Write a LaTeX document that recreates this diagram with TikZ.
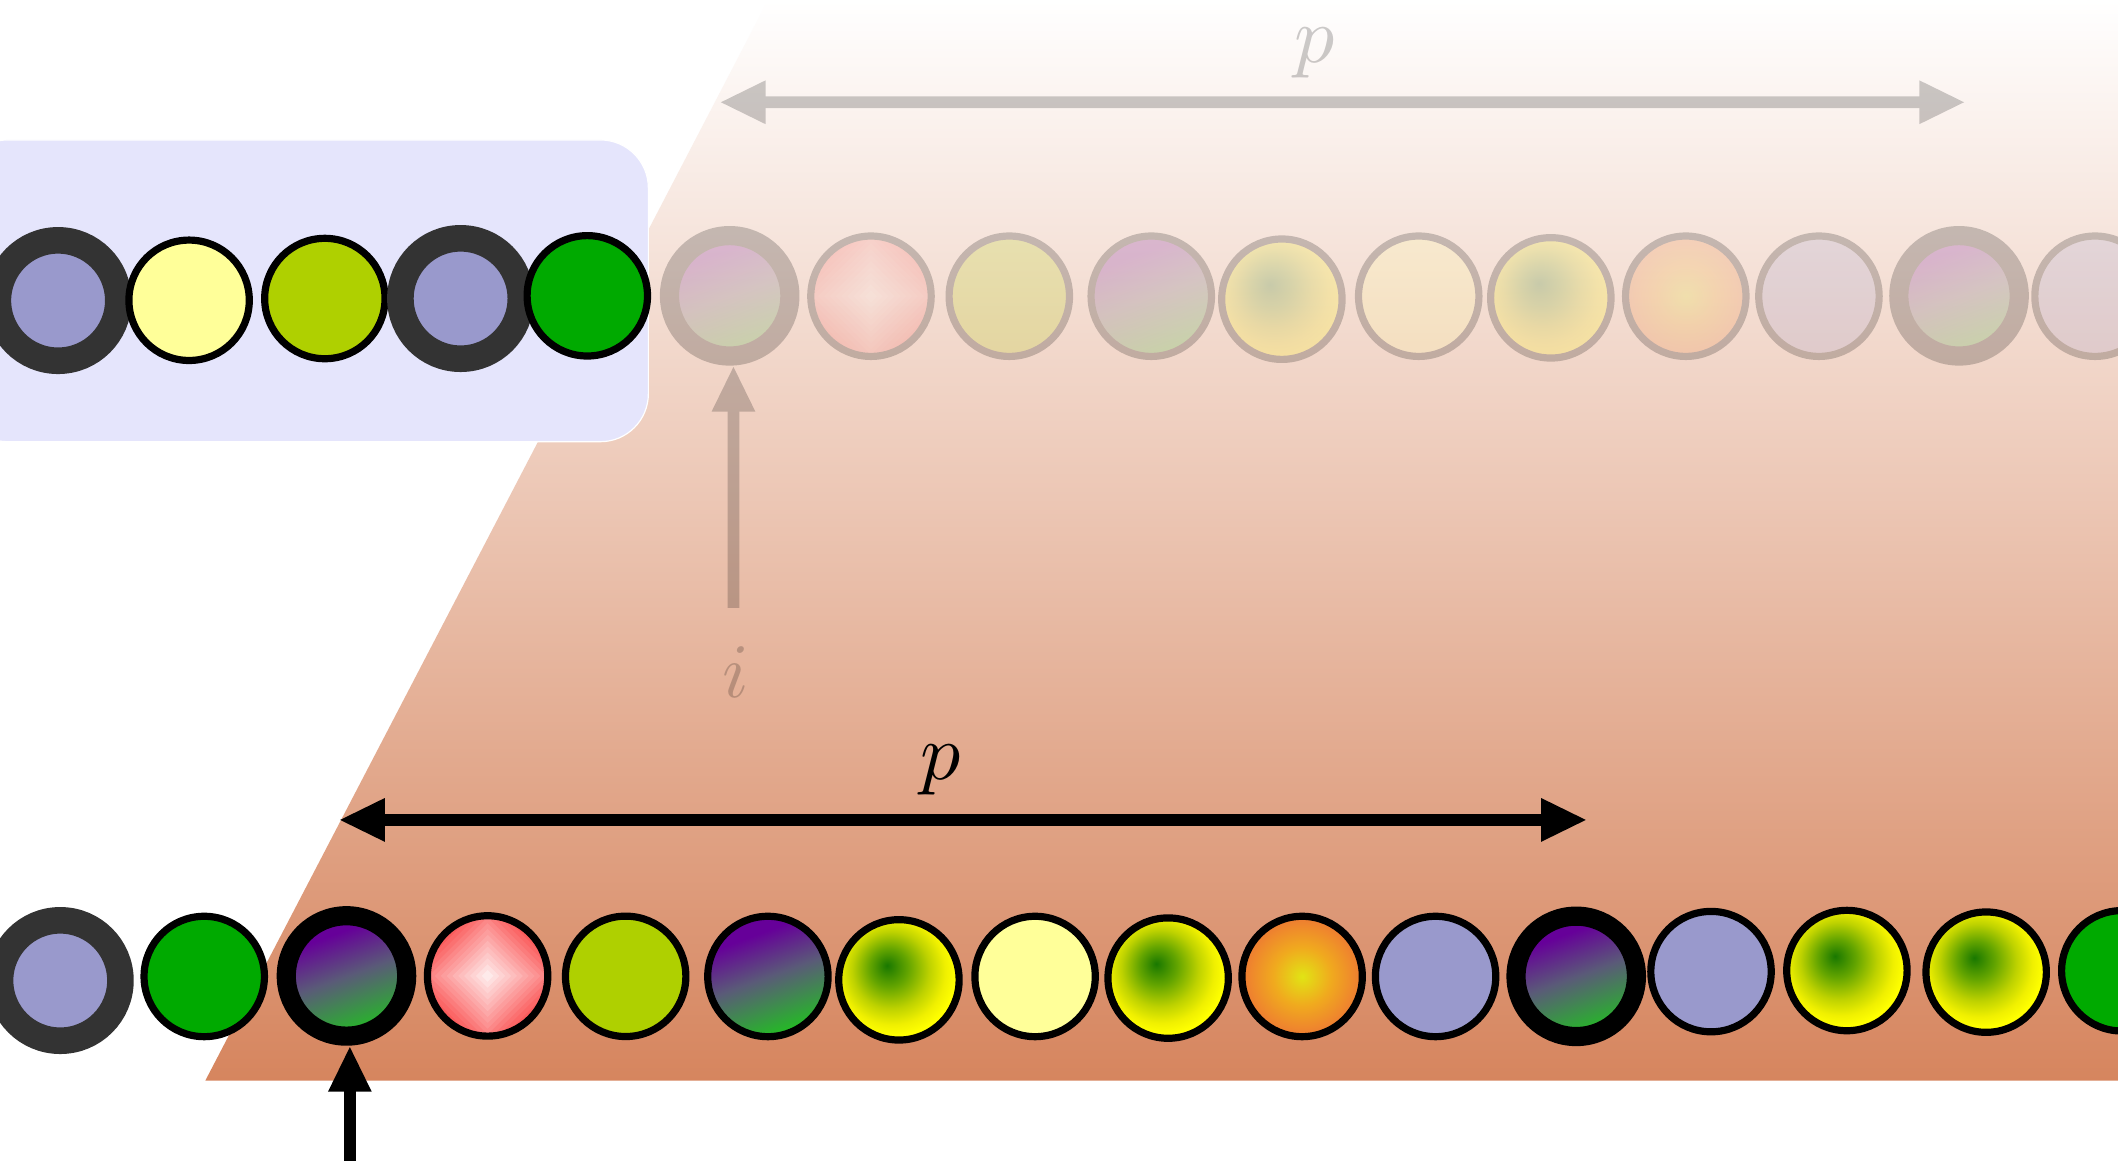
\documentclass[tikz,border=0pt]{standalone}
\usetikzlibrary{arrows.meta}
\definecolor{lav}{RGB}{153,153,204}
\definecolor{yel}{RGB}{255,255,153}
\definecolor{ygr}{RGB}{175,208,0}
\definecolor{grn}{RGB}{0,170,0}
\definecolor{dgray}{RGB}{51,51,51}
\definecolor{boxc}{RGB}{229,229,252}
\definecolor{tbot}{RGB}{214,133,94}
\definecolor{dred}{RGB}{250,80,80}
\definecolor{pgP}{RGB}{102,0,153}
\definecolor{pgM}{RGB}{90,90,120}
\definecolor{pgG}{RGB}{34,190,34}
\definecolor{gyA}{RGB}{25,120,0}
\definecolor{gyB}{RGB}{100,165,0}
\definecolor{gyC}{RGB}{190,210,0}
\definecolor{gyD}{RGB}{240,240,0}
\definecolor{gyE}{RGB}{255,255,0}
\definecolor{orA}{RGB}{225,228,20}
\definecolor{orB}{RGB}{240,170,30}
\definecolor{orC}{RGB}{238,122,50}
\pgfdeclareradialshading{gyshade}{\pgfpoint{-5bp}{6bp}}{color(0bp)=(gyA); color(8bp)=(gyB); color(16bp)=(gyC); color(22bp)=(gyD); color(26bp)=(gyE); color(50bp)=(gyE)}
\pgfdeclareradialshading{orshade}{\pgfpoint{0bp}{0bp}}{color(0bp)=(orA); color(12bp)=(orB); color(25bp)=(orC); color(50bp)=(orC)}
\pgfdeclareverticalshading{pgshade}{100bp}{color(0bp)=(pgG); color(25bp)=(pgG); color(50bp)=(pgM); color(68bp)=(pgP); color(100bp)=(pgP)}
\tikzset{
  cir/.style={circle, inner sep=0pt, minimum size=60.2pt, draw=black, line width=3.6pt},
  bring/.style={cir, line width=9.6pt},
  gring/.style={cir, draw=dgray, line width=13.3pt},
  flav/.style={fill=lav},
  fyel/.style={fill=yel},
  fygr/.style={fill=ygr},
  fgrn/.style={fill=grn},
  fpg/.style={shade, shading=pgshade, shading angle=20},
  fgy/.style={shade, shading=gyshade},
  forange/.style={shade, shading=orshade},
  fdia/.style={fill=dred, path picture={
     \foreach \k in {0,...,14}{
       \pgfmathsetmacro{\dd}{44*(1-\k/15)}
       \pgfmathtruncatemacro{\pc}{100*(1-\k/16)}
       \fill[dred!\pc!white, shift={(path picture bounding box.center)}]
         (\dd pt,0pt) -- (0pt,\dd pt) -- (-\dd pt,0pt) -- (0pt,-\dd pt) -- cycle;
     }}},
  arr/.style={line width=5.8pt, -{Triangle[length=23pt,width=20pt]}},
  darr/.style={line width=5.8pt, {Triangle[length=23pt,width=20pt]}-{Triangle[length=23pt,width=20pt]}},
  lbl/.style={inner sep=0pt}
}
\begin{document}
\begin{tikzpicture}[x=0.6754pt, y=-0.6754pt]
\useasboundingbox (0,0) rectangle (1568,859);
\clip (0,0) rectangle (1568,859);
\fill[white] (0,0) rectangle (1568,859);
% background trapezoid
\shade[top color=white, bottom color=tbot] (568.6,0) -- (1600,0) -- (1600,800) -- (152,800) -- cycle;
% blue box
\path[fill=boxc, draw=white, line width=0.6pt, rounded corners=24pt] (-30,103.6) rectangle (480,327);
% top row, full
\node[gring, flav] (t1) at (43,222.5) {};
\node[cir, fyel] (t2) at (140,222.3) {};
\node[cir, fygr] (t3) at (240.5,221) {};
\node[gring, flav] (t4) at (341,221) {};
\node[cir, fgrn] (t5) at (434.8,219) {};
% faded part
\begin{scope}[transparency group, opacity=0.2]
\node[bring, fpg] (t6) at (540.2,219) {};
\node[cir, fdia] (t7) at (644.8,219.3) {};
\node[cir, fygr] (t8) at (747.2,219.3) {};
\node[cir, fpg] (t9) at (852.3,219.3) {};
\node[cir, fgy] (t10) at (949,221.5) {};
\node[cir, fyel] (t11) at (1050.3,219.3) {};
\node[cir, fgy] (t12) at (1148.1,220.5) {};
\node[cir, forange] (t13) at (1248,219.3) {};
\node[cir, flav] (t14) at (1346.6,219.3) {};
\node[bring, fpg] (t15) at (1450.3,219) {};
\node[cir, flav] (t16) at (1551,219.3) {};
\coordinate (ta1) at (532.7,75.7);
\coordinate (ta2) at (1455,75.7);
\draw[darr] (ta1) -- (ta2);
\node[lbl, scale=4] (ptop) at (973.5,39) {$p$};
\coordinate (is) at (543,450);
\draw[arr] (is) -- (is |- t6.south);
\node[lbl, scale=3.85] (ilbl) at (545,497.5) {$i$};
\end{scope}
% bottom row
\node[gring, flav] (b1) at (44.6,725.9) {};
\node[cir, fgrn] (b2) at (151.2,722.9) {};
\node[bring, fpg] (b3) at (256.5,722.5) {};
\node[cir, fdia] (b4) at (361,722.5) {};
\node[cir, fygr] (b5) at (463.2,722.8) {};
\node[cir, fpg] (b6) at (568.5,722.9) {};
\node[cir, fgy] (b7) at (665.5,725.4) {};
\node[cir, fyel] (b8) at (766.3,722.9) {};
\node[cir, fgy] (b9) at (864.8,724.1) {};
\node[cir, forange] (b10) at (964,722.9) {};
\node[cir, flav] (b11) at (1062.8,722.9) {};
\node[bring, fpg] (b12) at (1166.9,722.8) {};
\node[cir, flav] (b13) at (1266.7,719.3) {};
\node[cir, fgy] (b14) at (1367.3,718.5) {};
\node[cir, fgy] (b15) at (1470.4,719.7) {};
\node[cir, fgrn] (b16) at (1570.8,718.7) {};
% bottom arrows
\coordinate (ba1) at (250.8,607);
\coordinate (ba2) at (1175,607);
\draw[darr] (ba1) -- (ba2);
\node[lbl, scale=4] (pbot) at (696,570) {$p$};
\coordinate (bs) at (259,880);
\draw[arr] (bs) -- (bs |- b3.south);
\end{tikzpicture}
\end{document}
